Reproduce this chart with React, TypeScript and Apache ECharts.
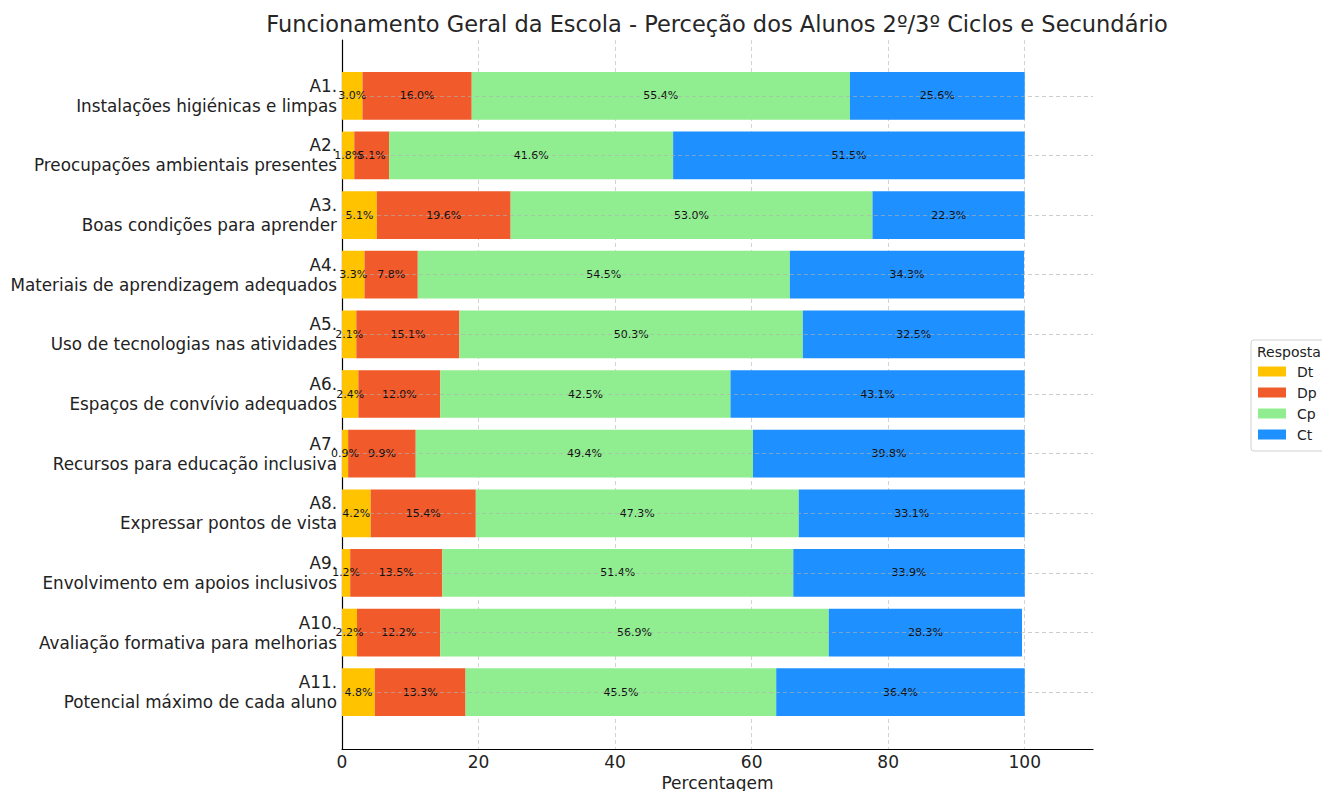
import React, { useEffect, useRef } from "react";
import * as echarts from "echarts";

const codes = ["A1.", "A2.", "A3.", "A4.", "A5.", "A6.", "A7.", "A8.", "A9.", "A10.", "A11."];
const descriptions = [
  "Instalações higiénicas e limpas",
  "Preocupações ambientais presentes",
  "Boas condições para aprender",
  "Materiais de aprendizagem adequados",
  "Uso de tecnologias nas atividades",
  "Espaços de convívio adequados",
  "Recursos para educação inclusiva",
  "Expressar pontos de vista",
  "Envolvimento em apoios inclusivos",
  "Avaliação formativa para melhorias",
  "Potencial máximo de cada aluno",
];
const dt = [3.0, 1.8, 5.1, 3.3, 2.1, 2.4, 0.9, 4.2, 1.2, 2.2, 4.8];
const dp = [16.0, 5.1, 19.6, 7.8, 15.1, 12.0, 9.9, 15.4, 13.5, 12.2, 13.3];
const cp = [55.4, 41.6, 53.0, 54.5, 50.3, 42.5, 49.4, 47.3, 51.4, 56.9, 45.5];
const ct = [25.6, 51.5, 22.3, 34.3, 32.5, 43.1, 39.8, 33.1, 33.9, 28.3, 36.4];
const seriesNames = ["Dt", "Dp", "Cp", "Ct"];
const colors = ["#FFC300", "#F15A2B", "#90EE90", "#1E90FF"];
const title = "Funcionamento Geral da Escola - Perceção dos Alunos 2º/3º Ciclos e Secundário";
const xTicks = [0, 20, 40, 60, 80, 100];

const FONT = "DejaVu Sans";

export default function App() {
  const ref = useRef<HTMLDivElement>(null);
  useEffect(() => {
    if (!ref.current) return;
    const chart = echarts.init(ref.current, undefined, { renderer: "svg" });
    const categories = codes.map((c, i) => c + "\n" + descriptions[i]);
    const values = [dt, dp, cp, ct];
    const series: any[] = values.map((vals, si) => ({
      name: seriesNames[si],
      type: "bar",
      stack: "total",
      xAxisIndex: 1,
      yAxisIndex: 1,
      barWidth: "80%",
      itemStyle: { color: colors[si] },
      data: vals,
      label: {
        show: true,
        position: "inside",
        formatter: (p: any) => Number(p.value).toFixed(1) + "%",
        fontFamily: FONT,
        fontSize: 11,
        color: "#111",
      },
      ...(si === 3
        ? {
            markLine: {
              silent: true,
              symbol: "none",
              label: { show: false },
              lineStyle: { color: "#b0b0b0", type: [4, 3], width: 0.8, opacity: 0.8 },
              data: categories.map((c) => ({ yAxis: c })),
            },
          }
        : {}),
    }));
    chart.setOption({
      animation: false,
      textStyle: { fontFamily: FONT },
      grid: [
        { left: 342, right: 229, top: 40, bottom: 42, outerBoundsMode: "none", containLabel: false },
        { left: 342, right: 229, top: 66, bottom: 69, outerBoundsMode: "none", containLabel: false },
      ],
      xAxis: [
        {
          type: "value",
          gridIndex: 0,
          min: 0,
          max: 110,
          interval: 20,
          axisLine: { show: true, lineStyle: { color: "#000", width: 1.2 } },
          axisTick: { show: false },
          axisLabel: {
            fontFamily: FONT,
            fontSize: 17,
            color: "#222",
            margin: 4,
            showMaxLabel: false,
            formatter: (v: number) => (xTicks.includes(v) ? String(v) : ""),
          },
          splitLine: {
            show: true,
            showMinLine: false,
            showMaxLine: false,
            lineStyle: { color: "#c8c8c8", type: [4, 3], width: 0.8 },
          },
          name: "Percentagem",
          nameLocation: "middle",
          nameGap: 24,
          nameTextStyle: { fontFamily: FONT, fontSize: 17, color: "#222" },
        },
        {
          type: "value",
          gridIndex: 1,
          min: 0,
          max: 110,
          show: false,
        },
      ],
      yAxis: [
        {
          type: "value",
          gridIndex: 0,
          min: 0,
          max: 1,
          axisLine: { show: true, lineStyle: { color: "#000", width: 1.2 } },
          axisTick: { show: false },
          axisLabel: { show: false },
          splitLine: { show: false },
        },
        {
          type: "category",
          gridIndex: 1,
          inverse: true,
          data: categories,
          axisLine: { show: false },
          axisTick: { show: false },
          splitLine: { show: false },
          axisLabel: {
            fontFamily: FONT,
            fontSize: 16.8,
            lineHeight: 20,
            color: "#222",
            align: "right",
            margin: 5,
            padding: [10, 0, 0, 0],
          },
        },
      ],
      legend: {
        orient: "vertical",
        left: 1258,
        top: 364,
        itemWidth: 28,
        itemHeight: 10,
        itemGap: 6,
        icon: "rect",
        padding: 0,
        data: seriesNames,
        textStyle: {
          fontFamily: FONT,
          fontSize: 14,
          color: "#222",
          lineHeight: 15,
          padding: [0, 0, 0, 6],
        },
      },
      graphic: [
        {
          type: "text",
          x: 717,
          y: 24,
          style: {
            text: title,
            fontFamily: FONT,
            fontSize: 22.5,
            fill: "#262626",
            textAlign: "center",
            textVerticalAlign: "middle",
          },
        },
        {
          type: "rect",
          shape: { x: 1251, y: 340, width: 90, height: 111, r: 3 },
          style: { fill: "#fff", stroke: "#d0d0d0", lineWidth: 1 },
          z: -1,
        },
        {
          type: "text",
          x: 1257,
          y: 352,
          style: {
            text: "Resposta",
            fontFamily: FONT,
            fontSize: 14,
            fill: "#222",
            textVerticalAlign: "middle",
          },
        },
      ],
      series,
    });
    return () => chart.dispose();
  }, []);
  return (
    <div
      ref={ref}
      style={{ position: "absolute", left: 0, top: 0, width: 1322, height: 791 }}
    />
  );
}
